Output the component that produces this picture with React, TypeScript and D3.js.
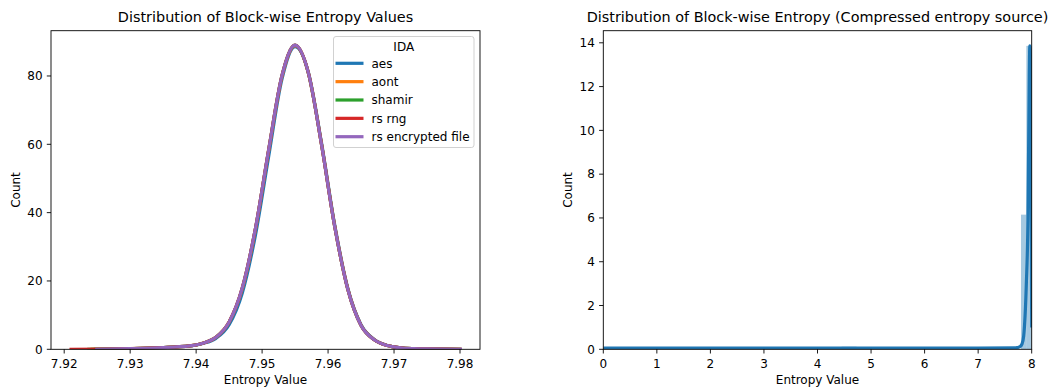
import React from "react";
import * as d3 from "d3";

// ---------- Left chart data (KDE curves) ----------
const seriesNames = ["aes", "aont", "shamir", "rs rng", "rs encrypted file"];
const seriesColors = ["#1f77b4", "#ff7f0e", "#2ca02c", "#d62728", "#9467bd"];
const seriesStart = [7.9245, 7.924, 7.9235, 7.9208, 7.9247];
const seriesEnd = [7.9802, 7.9801, 7.9802, 7.9803, 7.9803];
const kdeX = [7.93, 7.935, 7.937, 7.939, 7.941, 7.943, 7.945, 7.947, 7.949, 7.951, 7.953, 7.955, 7.957, 7.959, 7.961, 7.963, 7.965, 7.967, 7.969, 7.971, 7.973, 7.975, 7.98];
const aesY = [0.2, 0.5, 0.7, 0.95, 1.7, 3.2, 7.2, 16.5, 33.5, 56.5, 79.0, 88.6, 81.2, 60.5, 36.5, 17.8, 7.2, 2.9, 1.1, 0.45, 0.2, 0.1, 0.02];
const aontY = [0.2, 0.5, 0.7, 1.0, 1.8, 3.5, 8.0, 17.8, 35.2, 58.3, 79.8, 88.9, 81.0, 60.1, 36.1, 17.6, 7.0, 2.8, 1.1, 0.45, 0.2, 0.1, 0.02];
const shamirY = [0.2, 0.5, 0.7, 1.0, 1.8, 3.5, 7.9, 17.9, 35.4, 58.4, 80.0, 89.0, 80.9, 60.0, 36.0, 17.5, 7.0, 2.8, 1.1, 0.45, 0.2, 0.1, 0.02];
const rsRngY = [0.2, 0.5, 0.7, 1.0, 1.8, 3.5, 8.0, 18.0, 35.5, 58.5, 80.0, 89.0, 81.0, 60.0, 36.0, 17.5, 7.0, 2.8, 1.1, 0.45, 0.2, 0.1, 0.02];
const rsEncY = [0.2, 0.5, 0.7, 1.0, 1.8, 3.5, 8.0, 18.0, 35.5, 58.5, 80.0, 89.0, 81.0, 60.0, 36.0, 17.5, 7.0, 2.8, 1.1, 0.45, 0.2, 0.1, 0.02];
const seriesY = [aesY, aontY, shamirY, rsRngY, rsEncY];
const leftXTicks = [7.92, 7.93, 7.94, 7.95, 7.96, 7.97, 7.98];
const leftYTicks = [0, 20, 40, 60, 80];

// ---------- Right chart data (histogram + KDE) ----------
const histX0 = [4.45, 7.8, 7.9];
const histX1 = [4.73, 7.9, 8.0];
const histCount = [0.12, 6.15, 13.86];
const kde2X = [0, 1, 2, 3, 4, 5, 6, 7, 7.7, 7.78, 7.82, 7.85, 7.9, 7.93, 7.955, 7.965, 7.978, 7.99, 8.0];
const kde2Y = [0.06, 0.06, 0.06, 0.06, 0.06, 0.06, 0.06, 0.06, 0.07, 0.12, 0.25, 0.6, 3.0, 5.9, 12.5, 13.86, 13.2, 8.0, 1.0];
const rightXTicks = [0, 1, 2, 3, 4, 5, 6, 7, 8];
const rightYTicks = [0, 2, 4, 6, 8, 10, 12, 14];

const FONT = "DejaVu Sans, sans-serif";
const TITLE_SIZE = 14.4;
const LABEL_SIZE = 12;

export default function App() {
  const top = 30.7;
  const bottom = 349.3;

  // Left axes
  const lx0 = 51, lx1 = 480;
  const xL = d3.scaleLinear().domain([7.918, 7.98303]).range([lx0, lx1]);
  const yL = d3.scaleLinear().domain([0, 93.25]).range([bottom, top]);
  const lineL = d3
    .line<[number, number]>()
    .x((d) => xL(d[0]))
    .y((d) => yL(d[1]))
    .curve(d3.curveMonotoneX);

  // Right axes
  const rx0 = 603.3, rx1 = 1031.7;
  const xR = d3.scaleLinear().domain([0, 8]).range([rx0, rx1]);
  const yR = d3.scaleLinear().domain([0, 14.553]).range([bottom, top]);
  const lineR = d3
    .line<[number, number]>()
    .x((d) => xR(d[0]))
    .y((d) => yR(d[1]))
    .curve(d3.curveMonotoneX);

  const seriesPts = seriesNames.map((_, i) => {
    const pts: [number, number][] = [[seriesStart[i], 0]];
    kdeX.forEach((x, j) => {
      if (x > seriesStart[i] && x < seriesEnd[i]) pts.push([x, seriesY[i][j]]);
    });
    pts.push([seriesEnd[i], 0]);
    return pts;
  });
  const kde2Pts: [number, number][] = kde2X.map((x, i) => [x, kde2Y[i]]);

  const tickLen = 4.2;
  const pad = 4.2;

  const legendX = 333.5, legendY = 36.5, legendW = 140.5, legendH = 111;
  const legendRow0 = 63.3, legendStep = 18.35;

  return (
    <div style={{ position: "absolute", left: 0, top: 0 }}>
      <svg width={1052} height={388} style={{ display: "block", background: "#fff" }} fontFamily={FONT}>
        <defs>
          <clipPath id="clipL">
            <rect x={lx0} y={top} width={lx1 - lx0} height={bottom - top} />
          </clipPath>
          <clipPath id="clipR">
            <rect x={rx0} y={top} width={rx1 - rx0} height={bottom - top} />
          </clipPath>
        </defs>

        {/* ---------- LEFT ---------- */}
        <text x={(lx0 + lx1) / 2} y={22.2} textAnchor="middle" fontSize={TITLE_SIZE} fill="#000">
          Distribution of Block-wise Entropy Values
        </text>
        <g clipPath="url(#clipL)">
          {seriesPts.map((pts, i) => (
            <path key={i} d={lineL(pts) || ""} fill="none" stroke={seriesColors[i]} strokeWidth={3.2} strokeLinejoin="round" strokeLinecap="butt" />
          ))}
        </g>
        <rect x={lx0} y={top} width={lx1 - lx0} height={bottom - top} fill="none" stroke="#000" strokeWidth={0.9} />
        {leftXTicks.map((t) => (
          <g key={t}>
            <line x1={xL(t)} x2={xL(t)} y1={bottom} y2={bottom + tickLen} stroke="#000" strokeWidth={0.9} />
            <text x={xL(t)} y={367.7} textAnchor="middle" fontSize={LABEL_SIZE} fill="#000">
              {d3.format(".2f")(t)}
            </text>
          </g>
        ))}
        {leftYTicks.map((t) => (
          <g key={t}>
            <line x1={lx0 - tickLen} x2={lx0} y1={yL(t)} y2={yL(t)} stroke="#000" strokeWidth={0.9} />
            <text x={lx0 - tickLen - pad} y={yL(t)} dy="0.36em" textAnchor="end" fontSize={LABEL_SIZE} fill="#000">
              {t}
            </text>
          </g>
        ))}
        <text x={(lx0 + lx1) / 2} y={383.8} textAnchor="middle" fontSize={LABEL_SIZE} fill="#000">
          Entropy Value
        </text>
        <text transform={`translate(20.4,${(top + bottom) / 2}) rotate(-90)`} textAnchor="middle" fontSize={LABEL_SIZE} fill="#000">
          Count
        </text>

        {/* legend */}
        <rect x={legendX} y={legendY} width={legendW} height={legendH} rx={2.5} fill="#fff" fillOpacity={0.8} stroke="#cccccc" strokeWidth={0.9} />
        <text x={legendX + legendW / 2} y={51.1} textAnchor="middle" fontSize={LABEL_SIZE} fill="#000">
          IDA
        </text>
        {seriesNames.map((n, i) => {
          const yy = legendRow0 + i * legendStep;
          return (
            <g key={n}>
              <line x1={335.5} x2={363.5} y1={yy} y2={yy} stroke={seriesColors[i]} strokeWidth={3.2} />
              <text x={371.5} y={yy} dy="0.36em" fontSize={LABEL_SIZE} fill="#000">
                {n}
              </text>
            </g>
          );
        })}

        {/* ---------- RIGHT ---------- */}
        <text x={(rx0 + rx1) / 2} y={22.2} textAnchor="middle" fontSize={TITLE_SIZE} fill="#000">
          Distribution of Block-wise Entropy (Compressed entropy source)
        </text>
        <g clipPath="url(#clipR)">
          {histCount.map((c, i) => (
            <rect key={i} x={xR(histX0[i])} y={yR(c)} width={xR(histX1[i]) - xR(histX0[i])} height={yR(0) - yR(c)} fill="#1f77b4" fillOpacity={0.4} />
          ))}
          <path d={lineR(kde2Pts) || ""} fill="none" stroke="#1f77b4" strokeWidth={3.2} strokeLinejoin="round" />
        </g>
        <rect x={rx0} y={top} width={rx1 - rx0} height={bottom - top} fill="none" stroke="#000" strokeWidth={0.9} />
        {rightXTicks.map((t) => (
          <g key={t}>
            <line x1={xR(t)} x2={xR(t)} y1={bottom} y2={bottom + tickLen} stroke="#000" strokeWidth={0.9} />
            <text x={xR(t)} y={367.7} textAnchor="middle" fontSize={LABEL_SIZE} fill="#000">
              {t}
            </text>
          </g>
        ))}
        {rightYTicks.map((t) => (
          <g key={t}>
            <line x1={rx0 - tickLen} x2={rx0} y1={yR(t)} y2={yR(t)} stroke="#000" strokeWidth={0.9} />
            <text x={rx0 - tickLen - pad} y={yR(t)} dy="0.36em" textAnchor="end" fontSize={LABEL_SIZE} fill="#000">
              {t}
            </text>
          </g>
        ))}
        <text x={(rx0 + rx1) / 2} y={383.8} textAnchor="middle" fontSize={LABEL_SIZE} fill="#000">
          Entropy Value
        </text>
        <text transform={`translate(572.4,${(top + bottom) / 2}) rotate(-90)`} textAnchor="middle" fontSize={LABEL_SIZE} fill="#000">
          Count
        </text>
      </svg>
    </div>
  );
}
